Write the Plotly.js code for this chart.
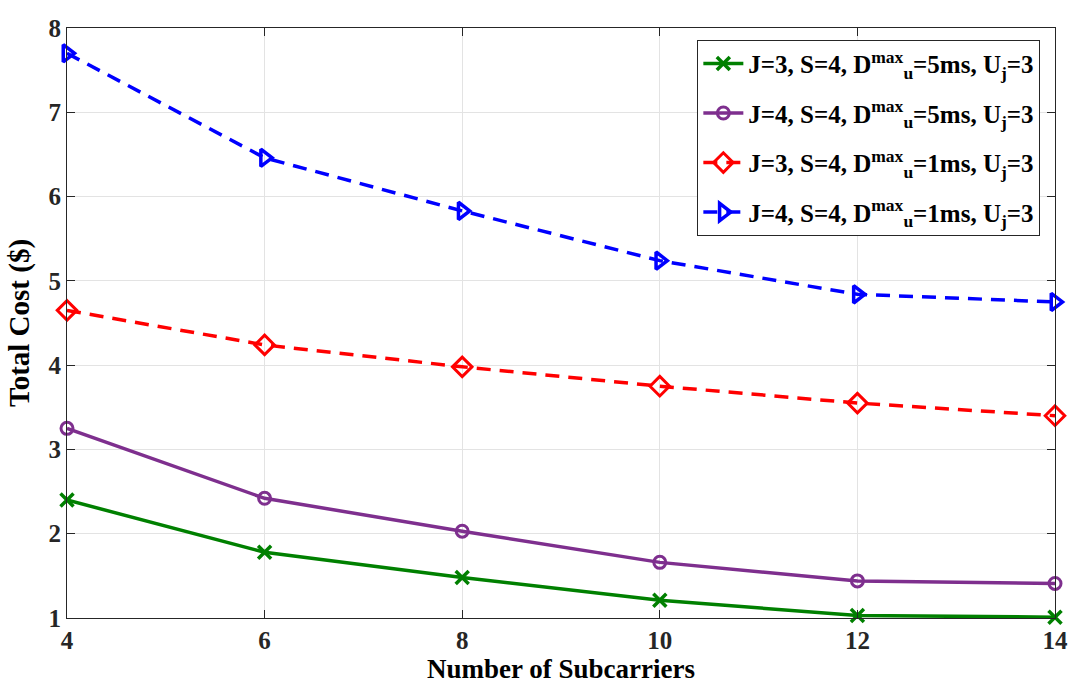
<!DOCTYPE html>
<html>
<head>
<meta charset="utf-8">
<script src="https://cdn.plot.ly/plotly-3.0.1.min.js"></script>
<style>
  html, body { margin: 0; padding: 0; background: #ffffff; }
  #chart { width: 1084px; height: 692px; }
</style>
</head>
<body>
<div id="chart"></div>
<script>
// Number of subcarriers on the horizontal axis
const subcarriers = [4, 6, 8, 10, 12, 14];

// Total cost ($) for each configuration
const costJ3D5 = [2.40, 1.78, 1.48, 1.21, 1.03, 1.01];
const costJ4D5 = [3.25, 2.42, 2.03, 1.66, 1.44, 1.41];
const costJ3D1 = [4.65, 4.24, 3.98, 3.75, 3.55, 3.40];
const costJ4D1 = [7.70, 6.46, 5.83, 5.24, 4.84, 4.75];

// Legend labels
const labelJ3D5 = 'J=3, S=4, D<sup>max</sup><sub>u</sub>=5ms, U<sub>j</sub>=3';
const labelJ4D5 = 'J=4, S=4, D<sup>max</sup><sub>u</sub>=5ms, U<sub>j</sub>=3';
const labelJ3D1 = 'J=3, S=4, D<sup>max</sup><sub>u</sub>=1ms, U<sub>j</sub>=3';
const labelJ4D1 = 'J=4, S=4, D<sup>max</sup><sub>u</sub>=1ms, U<sub>j</sub>=3';

const xTicks = [4, 6, 8, 10, 12, 14];
const yTicks = [1, 2, 3, 4, 5, 6, 7, 8];

const serif = '"Liberation Serif", "Times New Roman", serif';

const traces = [
  {
    x: subcarriers, y: costJ3D5, name: labelJ3D5, legendgroup: 'a', type: 'scatter', mode: 'lines+markers',
    cliponaxis: false,
    line: { color: '#008000', width: 3.5 },
    marker: { symbol: 'x-thin-open', size: 13, color: '#008000', line: { color: '#008000', width: 3.5 } }
  },
  {
    x: subcarriers, y: costJ4D5, name: labelJ4D5, legendgroup: 'b', type: 'scatter', mode: 'lines+markers',
    cliponaxis: false,
    line: { color: '#7E2F8E', width: 3.5 },
    marker: { symbol: 'circle-open', size: 12, color: '#7E2F8E', line: { color: '#7E2F8E', width: 3 } }
  },
  {
    x: subcarriers, y: costJ3D1, name: labelJ3D1, legendgroup: 'c', type: 'scatter', mode: 'lines+markers',
    cliponaxis: false,
    line: { color: '#FF0000', width: 3.5, dash: '14px,9px' },
    marker: { symbol: 'diamond-open', size: 15, color: '#FF0000', line: { color: '#FF0000', width: 3 } }
  },
  {
    x: subcarriers, y: costJ4D1, name: labelJ4D1, legendgroup: 'd', type: 'scatter', mode: 'lines+markers',
    cliponaxis: false,
    line: { color: '#0000FF', width: 3.5, dash: '14px,9px' },
    marker: { symbol: 'triangle-right-open', size: 15, color: '#0000FF', line: { color: '#0000FF', width: 3.5 } }
  }
];

const layout = {
  width: 1084, height: 692,
  margin: { l: 67, r: 29, t: 28, b: 74 },
  paper_bgcolor: '#ffffff', plot_bgcolor: '#ffffff',
  font: { family: serif, color: '#262626', size: 25, weight: 'bold' },
  showlegend: true,
  legend: {
    x: 0.638, y: 0.98, xanchor: 'left', yanchor: 'top',
    bgcolor: '#ffffff', bordercolor: '#262626', borderwidth: 1,
    font: { family: serif, size: 25, color: '#000000', weight: 'bold' },
    tracegroupgap: 14, itemwidth: 40
  },
  xaxis: {
    range: [4, 14], tickvals: xTicks, ticktext: xTicks.map(String),
    showgrid: true, gridcolor: '#e3e3e3', gridwidth: 1,
    zeroline: false, showline: true, linecolor: '#262626', linewidth: 1, mirror: 'ticks',
    ticks: 'inside', ticklen: 8, tickcolor: '#262626',
    tickfont: { family: serif, size: 25, color: '#262626', weight: 'bold' },
    title: { text: 'Number of Subcarriers', font: { family: serif, size: 27, color: '#000000', weight: 'bold' }, standoff: 2 }
  },
  yaxis: {
    range: [1, 8], tickvals: yTicks, ticktext: yTicks.map(String),
    showgrid: true, gridcolor: '#e3e3e3', gridwidth: 1,
    zeroline: false, showline: true, linecolor: '#262626', linewidth: 1, mirror: 'ticks',
    ticks: 'inside', ticklen: 8, tickcolor: '#262626',
    tickfont: { family: serif, size: 25, color: '#262626', weight: 'bold' },
    title: { text: 'Total Cost ($)', font: { family: serif, size: 29, color: '#000000', weight: 'bold' }, standoff: 10 }
  }
};

Plotly.newPlot('chart', traces, layout, { displayModeBar: false, staticPlot: true });
</script>
</body>
</html>
